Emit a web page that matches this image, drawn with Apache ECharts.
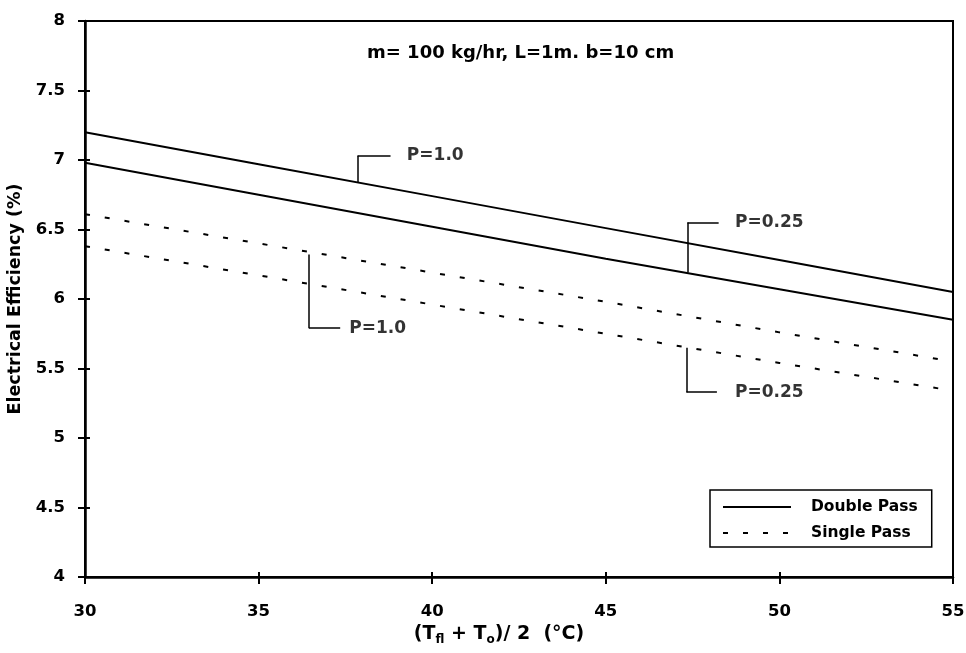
<!DOCTYPE html>
<html>
<head>
<meta charset="utf-8">
<script src="https://cdn.jsdelivr.net/npm/echarts@6/dist/echarts.min.js"></script>
<style>
html,body{margin:0;padding:0;background:#fff;}
#chart{width:966px;height:653px;}
</style>
</head>
<body>
<div id="chart"></div>
<script>
// Data
var xValues = [30, 35, 40, 45, 50, 55];
var doublePassP100 = [7.20, 6.97, 6.74, 6.51, 6.28, 6.05];
var doublePassP025 = [6.98, 6.75, 6.52, 6.29, 6.07, 5.85];
var singlePassP100 = [6.61, 6.40, 6.19, 5.98, 5.76, 5.55];
var singlePassP025 = [6.38, 6.17, 5.96, 5.75, 5.54, 5.34];
var xTicks = [30, 35, 40, 45, 50, 55];
var yTicks = [4, 4.5, 5, 5.5, 6, 6.5, 7, 7.5, 8];
// callouts: label, x of vertical leader, y on curve, y of elbow, x end of elbow, x of text start
var calloutLabels = ['P=1.0', 'P=0.25', 'P=1.0', 'P=0.25'];
var calloutX     = [37.85, 47.35, 36.45, 47.32];
var calloutYFrom = [6.84, 6.19, 6.32, 5.65];
var calloutYTo   = [7.03, 6.55, 5.79, 5.33];
var calloutXEnd  = [38.80, 48.25, 37.35, 48.20];
var calloutTextX = [39.27, 48.72, 37.61, 48.72];
var subtitle = 'm= 100 kg/hr, L=1m. b=10 cm';

function pairs(ys){ return xValues.map(function(x,i){ return [x, ys[i]]; }); }

var FONT = '"DejaVu Sans", sans-serif';
var chart = echarts.init(document.getElementById('chart'));

var leaderLines = [];
var labelPts = [];
for (var i = 0; i < calloutLabels.length; i++) {
  leaderLines.push([{coord:[calloutX[i], calloutYFrom[i]]},{coord:[calloutX[i], calloutYTo[i]]}]);
  leaderLines.push([{coord:[calloutX[i], calloutYTo[i]]},{coord:[calloutXEnd[i], calloutYTo[i]]}]);
  labelPts.push([calloutTextX[i], calloutYTo[i], calloutLabels[i]]);
}

var solidStyle = {color:'#000', width:2, type:'solid'};
var dashStyle = {color:'#000', width:2, type:[5,15]};

chart.setOption({
  animation:false,
  backgroundColor:'#fff',
  textStyle:{fontFamily:FONT},
  grid:{left:85, right:13, top:21, bottom:76, show:true, borderColor:'#000', borderWidth:2, outerBoundsMode:'none', containLabel:false},
  graphic:[{
    type:'text', left:367, top:44,
    style:{text:subtitle, font:'bold 18px ' + FONT, fill:'#000'}
  }],
  legend:{
    data:['Double Pass','Single Pass'],
    orient:'vertical',
    left:710, top:490,
    itemWidth:68, itemHeight:10, itemGap:10,
    padding:[9,14,6,12],
    borderColor:'#000', borderWidth:1.5,
    backgroundColor:'#fff',
    selectedMode:false,
    itemStyle:{opacity:0},
    textStyle:{fontFamily:FONT, fontWeight:'bold', fontSize:15.5, color:'#000', padding:[0,0,0,15]}
  },
  xAxis:[{
    type:'value', min:30, max:55, interval:5,
    axisLine:{show:true, lineStyle:{color:'#000', width:2.5}},
    axisTick:{show:true, length:7, lineStyle:{color:'#000', width:2}},
    axisLabel:{color:'#000', fontSize:16.5, fontWeight:'bold', margin:26, fontFamily:FONT,
      formatter:function(v){ return xTicks.indexOf(v) >= 0 ? String(v) : ''; }},
    splitLine:{show:false},
    name:'{n|(T}{s|fl}{n| + T}{s|o}{n|)/ 2  (°C)}',
    nameLocation:'middle', nameGap:44,
    nameTextStyle:{padding:[0,40,0,0],
      rich:{n:{fontFamily:FONT, fontWeight:'bold', fontSize:19, color:'#000'},
            s:{fontFamily:FONT, fontWeight:'bold', fontSize:12, color:'#000', padding:[10,0,0,0]}}}
  },{
    type:'value', min:30, max:55, interval:5, position:'bottom',
    axisLine:{show:false}, axisLabel:{show:false}, splitLine:{show:false},
    axisTick:{show:true, inside:true, length:5, lineStyle:{color:'#000', width:2}}
  }],
  yAxis:[{
    type:'value', min:4, max:8, interval:0.5,
    axisLine:{show:true, lineStyle:{color:'#000', width:2.5}},
    axisTick:{show:true, length:7, lineStyle:{color:'#000', width:2}},
    axisLabel:{color:'#000', fontSize:16.5, fontWeight:'bold', margin:20, fontFamily:FONT,
      formatter:function(v){ return yTicks.indexOf(v) >= 0 ? String(v) : ''; }},
    splitLine:{show:false},
    name:'Electrical Efficiency (%)',
    nameLocation:'middle', nameGap:57,
    nameTextStyle:{fontFamily:FONT, fontWeight:'bold', fontSize:17.5, color:'#000'}
  },{
    type:'value', min:4, max:8, interval:0.5, position:'left',
    axisLine:{show:false}, axisLabel:{show:false}, splitLine:{show:false},
    axisTick:{show:true, inside:true, length:5, lineStyle:{color:'#000', width:2}}
  }],
  series:[
    {name:'Double Pass', type:'line', data:pairs(doublePassP100), showSymbol:false, symbol:'none', lineStyle:solidStyle, itemStyle:{color:'#000'}, silent:true},
    {name:'Double Pass', type:'line', data:pairs(doublePassP025), showSymbol:false, symbol:'none', lineStyle:solidStyle, itemStyle:{color:'#000'}, silent:true},
    {name:'Single Pass', type:'line', data:pairs(singlePassP100), showSymbol:false, symbol:'none', lineStyle:dashStyle, itemStyle:{color:'#000'}, silent:true},
    {name:'Single Pass', type:'line', data:pairs(singlePassP025), showSymbol:false, symbol:'none', lineStyle:dashStyle, itemStyle:{color:'#000'}, silent:true},
    {name:'callouts', type:'scatter', data:labelPts, symbolSize:0, silent:true,
      itemStyle:{color:'#000'},
      label:{show:true, position:'right', distance:0, color:'#000', fontFamily:FONT, fontSize:17, fontWeight:'bold',
        formatter:function(p){ return p.data[2]; }},
      markLine:{silent:true, symbol:['none','none'], animation:false,
        lineStyle:{color:'#000', width:1.5, type:'solid'},
        label:{show:false}, emphasis:{disabled:true},
        data:leaderLines}
    }
  ]
});
</script>
</body>
</html>
